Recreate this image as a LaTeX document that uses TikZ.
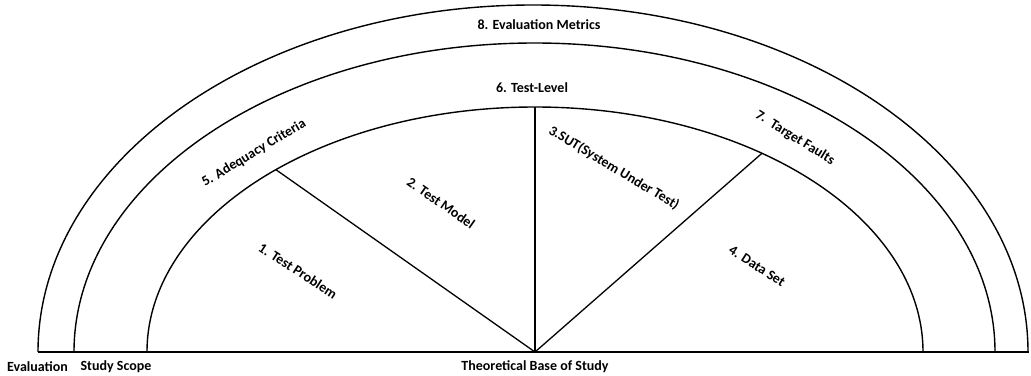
\documentclass[tikz,border=0pt]{standalone}
\usepackage{fontspec}
\setmainfont{Carlito}
\usetikzlibrary{calc}
\begin{document}
\begin{tikzpicture}[x=1pt,y=1pt,
  ring/.style={line width=1.4pt},
  spoke/.style={line width=1.3pt},
  lbl/.style={font=\fontsize{14}{16}\selectfont\bfseries, inner sep=0pt}]
\useasboundingbox (0,0) rectangle (1031,375);
% centre of the base line
\coordinate (O) at (535,23);
% base line
\coordinate (BL) at (38,23);
\coordinate (BR) at (1029,23);
\draw[ring] (BL) -- (BR);
% three nested half ellipses
\draw[ring] (1028,23) arc[start angle=0, end angle=180, x radius=495, y radius=347];
\draw[ring] (995,23) arc[start angle=0, end angle=180, x radius=460.5, y radius=309];
\draw[ring] (923,23) arc[start angle=0, end angle=180, x radius=388, y radius=245];
% spokes of the inner half ellipse
\coordinate (SL) at ($(O)+(131.9:388 and 245)$);
\coordinate (ST) at ($(O)+(90:388 and 245)$);
\coordinate (SR) at ($(O)+(54.2:388 and 245)$);
\draw[spoke] (O) -- (SL);
\draw[spoke] (O) -- (ST);
\draw[spoke] (O) -- (SR);
% labels
\node[lbl] (metrics) at (539,350) {8. Evaluation Metrics};
\node[lbl] (level) at (532,287) {6. Test-Level};
\node[lbl, rotate=31] (adequacy) at (254,222) {5. Adequacy Criteria};
\node[lbl, rotate=-32] (faults) at (795,237) {7.\ \ Target Faults};
\node[lbl, rotate=-31] (sut) at (614,207) {3.SUT(System Under Test)};
\node[lbl, rotate=-35] (model) at (441,172) {2. Test Model};
\node[lbl, rotate=-33] (problem) at (298,104) {1. Test Problem};
\node[lbl, rotate=-33] (data) at (757,109) {4. Data Set};
\node[lbl] (evaluation) at (37.5,8) {Evaluation};
\node[lbl] (scope) at (116,8) {Study Scope};
\node[lbl] (base) at (535,8) {Theoretical Base of Study};
\end{tikzpicture}
\end{document}
